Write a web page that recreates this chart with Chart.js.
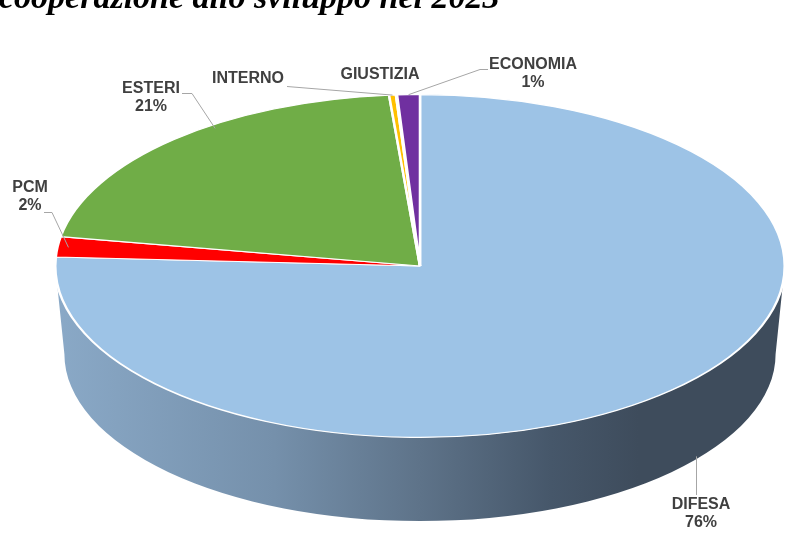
<!DOCTYPE html>
<html>
<head>
<meta charset="utf-8">
<script src="https://cdn.jsdelivr.net/npm/chart.js@4/dist/chart.umd.min.js"></script>
<style>
  html, body { margin: 0; padding: 0; background: #ffffff; overflow: hidden; }
  #wrap { position: relative; width: 808px; height: 547px; overflow: hidden; }
  #title {
    position: absolute; left: -1px; top: -20px;
    font: italic bold 34px "Liberation Serif", "Times New Roman", serif;
    line-height: 34px; white-space: nowrap; color: #000;
  }
  #chart { position: absolute; left: 0; top: 0; }
</style>
</head>
<body>
<div id="wrap">
  <canvas id="chart" width="808" height="547"></canvas>
  <div id="title">cooperazione allo sviluppo nel 2023</div>
</div>
<script>
// ---- data ----
const CATEGORIES = ['DIFESA', 'PCM', 'ESTERI', 'INTERNO', 'GIUSTIZIA', 'ECONOMIA'];
const VALUES     = [75.8, 1.9, 20.9, 0.3, 0.05, 1.0];
const COLORS     = ['#9DC3E6', '#FF0000', '#70AD47', '#FFC000', '#A5A5A5', '#7030A0'];
const SHOW_PCT   = [true, true, true, false, false, true];

// ---- layout / style ----
const ASPECT = 366 / 172;      // horizontal stretch of the tilted pie
const DEPTH = 88;              // thickness of the 3D side
const BOTTOM_SCALE = 0.975;    // slight perspective shrink of the base
const LABEL_FONT = 'bold 16px "Liberation Sans", Arial, sans-serif';
const LABEL_COLOR = '#404040';
const LEADER_COLOR = '#A6A6A6';
const LINE_H = 18;
// label layout: centre of first text line, leader start/elbow, and where on the slice it points
const LABEL_LAYOUT = [
  { x: 701, y: 505, side: true, sx: 696, sy: 495 },
  { x: 30,  y: 188, start: [44, 212], elbow: [52, 212], f: 0.5, rr: 0.97 },
  { x: 151, y: 89,  start: [182, 93], elbow: [192, 93], f: 0.6, rr: 0.98 },
  { x: 248, y: 79,  start: [287, 86], f: 0.5, rr: 1.0 },
  { x: 380, y: 75 },
  { x: 533, y: 65,  start: [488, 69], elbow: [480, 69], f: 0.5, rr: 1.0 }
];

function sideFill(ctx, x, r, i) {
  if (i === 0) {
    const g = ctx.createLinearGradient(x - r, 0, x + r, 0);
    g.addColorStop(0, '#8AA9C7');
    g.addColorStop(0.3, '#7590AB');
    g.addColorStop(0.5, '#5E7389');
    g.addColorStop(0.68, '#46576A');
    g.addColorStop(0.8, '#3E4C5C');
    g.addColorStop(1, '#3E4C5C');
    return g;
  }
  return 'rgba(0,0,0,0.45)';
}

const tiltPlugin = {
  id: 'tilt',
  beforeDatasetsDraw(chart) {
    const ctx = chart.ctx;
    const meta = chart.getDatasetMeta(0);
    const a0 = meta.data[0];
    const x = a0.x, y = a0.y, r = a0.outerRadius;
    ctx.save();
    ctx.translate(x, y);
    ctx.scale(ASPECT, 1);
    ctx.translate(-x, -y);
    meta.data.forEach((arc, i) => {
      const s = arc.startAngle, e = arc.endAngle;
      [0, 2 * Math.PI, -2 * Math.PI].forEach(off => {
        const a = Math.max(s, off), b = Math.min(e, off + Math.PI);
        if (b > a) {
          ctx.beginPath();
          ctx.arc(x, y, r, a, b, false);
          ctx.arc(x, y + DEPTH, r * BOTTOM_SCALE, b, a, true);
          ctx.closePath();
          if (i !== 0) { ctx.fillStyle = COLORS[i]; ctx.fill(); }
          ctx.fillStyle = sideFill(ctx, x, r, i);
          ctx.fill();
        }
      });
    });
  },
  afterDatasetsDraw(chart) {
    chart.ctx.restore();
  }
};

const labelPlugin = {
  id: 'labels3d',
  afterDraw(chart) {
    const ctx = chart.ctx;
    const meta = chart.getDatasetMeta(0);
    const a0 = meta.data[0];
    const cx = a0.x, cy = a0.y, r = a0.outerRadius;
    const total = VALUES.reduce((p, v) => p + v, 0);
    ctx.save();
    // leaders
    ctx.strokeStyle = LEADER_COLOR;
    ctx.lineWidth = 1;
    LABEL_LAYOUT.forEach((L, i) => {
      if (L.side) {
        const rb = r * BOTTOM_SCALE;
        const t = (L.sx - cx) / (ASPECT * rb);
        const yb = cy + DEPTH + rb * Math.sqrt(Math.max(0, 1 - t * t)) - 3;
        ctx.beginPath();
        ctx.moveTo(L.sx + 0.5, L.sy);
        ctx.lineTo(L.sx + 0.5, yb);
        ctx.stroke();
      } else if (L.start) {
        const arc = meta.data[i];
        const ang = arc.startAngle + L.f * (arc.endAngle - arc.startAngle);
        const px = cx + ASPECT * r * L.rr * Math.cos(ang);
        const py = cy + r * L.rr * Math.sin(ang);
        ctx.beginPath();
        ctx.moveTo(L.start[0], L.start[1] + 0.5);
        if (L.elbow) ctx.lineTo(L.elbow[0], L.elbow[1] + 0.5);
        ctx.lineTo(px, py);
        ctx.stroke();
      }
    });
    // texts
    ctx.font = LABEL_FONT;
    ctx.fillStyle = LABEL_COLOR;
    ctx.textAlign = 'center';
    ctx.textBaseline = 'middle';
    LABEL_LAYOUT.forEach((L, i) => {
      ctx.fillText(CATEGORIES[i], L.x, L.y);
      if (SHOW_PCT[i]) {
        ctx.fillText(Math.round(VALUES[i] / total * 100) + '%', L.x, L.y + LINE_H);
      }
    });
    ctx.restore();
  }
};

new Chart(document.getElementById('chart'), {
  type: 'pie',
  data: {
    labels: CATEGORIES,
    datasets: [{
      data: VALUES,
      backgroundColor: COLORS,
      borderColor: '#FFFFFF',
      borderWidth: 1.2
    }]
  },
  options: {
    responsive: false,
    devicePixelRatio: 1,
    animation: false,
    events: [],
    layout: { padding: { left: 60, right: 28, top: 94, bottom: 109 } },
    plugins: {
      legend: { display: false },
      tooltip: { enabled: false },
      title: { display: false }
    }
  },
  plugins: [tiltPlugin, labelPlugin]
});
</script>
</body>
</html>
